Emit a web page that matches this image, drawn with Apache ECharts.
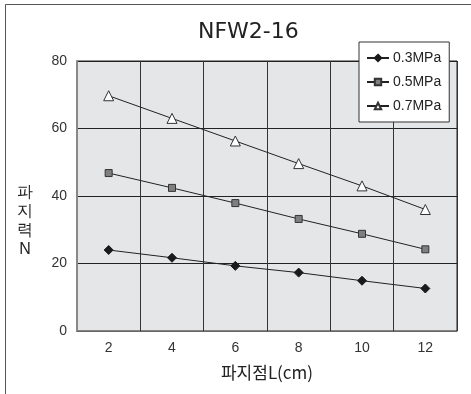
<!DOCTYPE html>
<html><head><meta charset="utf-8">
<script src="https://cdn.jsdelivr.net/npm/echarts@6/dist/echarts.min.js"></script>
<style>html,body{margin:0;padding:0;background:#fff}#c{width:471px;height:394px}</style>
</head><body><div id="c"></div>
<script>
const categories = ['2','4','6','8','10','12'];
const s03 = [24.0, 21.7, 19.3, 17.3, 14.9, 12.6];
const s05 = [46.8, 42.4, 37.9, 33.2, 28.8, 24.2];
const s07 = [69.7, 63.0, 56.3, 49.6, 43.0, 36.0];
const seriesNames = ['0.3MPa','0.5MPa','0.7MPa'];
const yTicks = [0, 20, 40, 60, 80];
const yName = '파\n지\n력\nN';

const FONT = 'Liberation Sans, Arial, "Noto Sans CJK KR", sans-serif';
const chart = echarts.init(document.getElementById('c'));
const lineStyle = {color:'#222', width:1};
chart.setOption({
  animation:false,
  backgroundColor:'#fff',
  textStyle:{fontFamily:FONT},
  title:{text:'NFW2-16', left:193, top:16, textStyle:{fontSize:22, fontWeight:'normal', color:'#222', fontFamily:'DejaVu Sans'}},
  graphic:[
    {type:'line', shape:{x1:5.5,y1:4.5,x2:471,y2:4.5}, style:{stroke:'#555', lineWidth:1}},
    {type:'line', shape:{x1:5.5,y1:4.5,x2:5.5,y2:394}, style:{stroke:'#555', lineWidth:1}},
    {type:'text', left:17, top:183, style:{text:yName, fontSize:16, lineHeight:19, fill:'#222', textAlign:'center', font:'16px "Noto Sans CJK KR", sans-serif'}}
  ],
  grid:{left:77, top:61, width:380, height:270, show:true, backgroundColor:'#e5e6e8', borderColor:'#222', borderWidth:1},
  legend:{
    orient:'vertical', left:359, top:42, width:97,
    backgroundColor:'#fff', borderColor:'#333', borderWidth:1,
    padding:[9,8,9,7], itemGap:10, itemWidth:22, itemHeight:8,
    textStyle:{fontSize:14, color:'#222', fontFamily:FONT, padding:[0,0,0,-1]},
    data:seriesNames
  },
  xAxis:{
    type:'category', data:categories, boundaryGap:true,
    name:'파지점L(cm)', nameLocation:'middle', nameGap:33,
    nameTextStyle:{fontSize:17, color:'#222', fontFamily:'"Noto Sans CJK KR", sans-serif'},
    axisLine:{lineStyle:{color:'#666', width:1}},
    axisTick:{show:false},
    axisLabel:{fontSize:14, color:'#333', margin:10},
    splitLine:{show:true, lineStyle:{color:'#333', width:1}}
  },
  yAxis:{
    type:'value', min:yTicks[0], max:yTicks[yTicks.length-1], interval:20,
    axisLine:{show:true, lineStyle:{color:'#888', width:2}},
    axisTick:{show:false},
    axisLabel:{fontSize:14, color:'#333', margin:10},
    splitLine:{show:true, lineStyle:{color:'#222', width:1}}
  },
  series:[
    {name:seriesNames[0], type:'line', data:s03, symbol:'diamond', symbolSize:9,
     lineStyle:lineStyle, itemStyle:{color:'#1a1a1a', borderColor:'#1a1a1a', borderWidth:1}},
    {name:seriesNames[1], type:'line', data:s05, symbol:'rect', symbolSize:7,
     lineStyle:lineStyle, itemStyle:{color:'#7f7f7f', borderColor:'#333', borderWidth:1}},
    {name:seriesNames[2], type:'line', data:s07, symbol:'triangle', symbolSize:10,
     lineStyle:lineStyle, itemStyle:{color:'#fff', borderColor:'#333', borderWidth:1}}
  ]
});
</script></body></html>
